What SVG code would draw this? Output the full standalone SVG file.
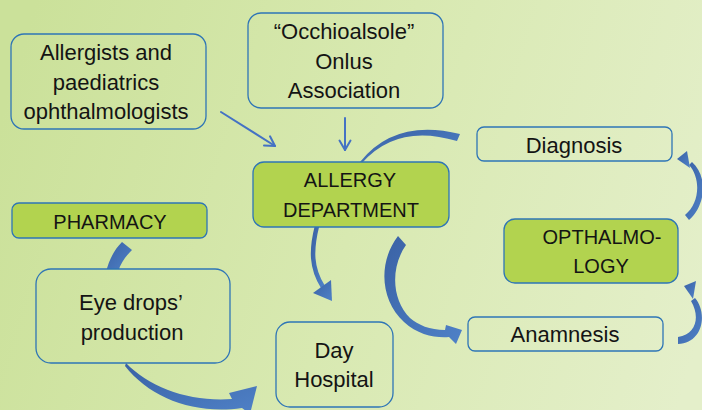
<svg xmlns="http://www.w3.org/2000/svg" width="702" height="410" viewBox="0 0 702 410">
<defs>
<linearGradient id="bg" gradientUnits="userSpaceOnUse" x1="0" y1="120" x2="702" y2="330">
<stop offset="0" stop-color="#cbe19a"/>
<stop offset="0.5" stop-color="#d8e9b1"/>
<stop offset="1" stop-color="#e4efca"/>
</linearGradient>
<linearGradient id="ag" x1="0" y1="0" x2="1" y2="1">
<stop offset="0" stop-color="#3a62a5"/>
<stop offset="1" stop-color="#4f81c7"/>
</linearGradient>
<style>
.box{fill:url(#bg);stroke:#2e75b6;stroke-width:1.3}
.gbox{fill:#b2d34f;stroke:#2e75b6;stroke-width:1.3}
.t{font-family:"Liberation Sans",Arial,sans-serif;font-size:22px;fill:#141414;text-anchor:middle}
.tg{font-family:"Liberation Sans",Arial,sans-serif;font-size:20px;fill:#141414;text-anchor:middle}
.thin{fill:none;stroke:#4472c4;stroke-width:2;stroke-linecap:round;stroke-linejoin:round}
.band{fill:url(#ag)}
.shaft{fill:none;stroke:url(#ag);stroke-width:4.5}
</style>
</defs>
<rect x="0" y="0" width="702" height="410" fill="url(#bg)"/>
<g id="connectors">
<line class="thin" x1="221" y1="112" x2="275" y2="146"/>
<polyline class="thin" points="264,145.6 275,146 270,136.3"/>
<line class="thin" x1="345" y1="118" x2="345" y2="150"/>
<polyline class="thin" points="339.5,140.5 345,150 350.5,140.5"/>
<path class="band" d="M360,162 Q395,118 460,134 L457,141 Q397,123 362,163 Z"/>
<path class="shaft" d="M317,226 C311,250 311,268 323,287"/>
<polygon class="band" points="313,293 331,280 332,301"/>
<path class="band" d="M398,236 C378,262 380,300 404,322 C418,335 435,338 449,337 L456,344 L462,330 L446,325 L445,330 C430,330 418,325 410,318 C392,300 390,268 406,245 Z"/>
<path class="band" d="M126,363 C150,388 190,402 232,399 L229,393 L257,386 L250,414 L242,408 C195,415 150,398 125,366 Z"/>
<path class="band" d="M122,242 L132,250 C126,256 121,262 118,272 L106,272 C109,260 114,250 122,242 Z"/>
<path class="band" d="M685,215 L689,220 C706,205 708,176 692,162 L689,165 C701,178 700,203 685,215 Z"/>
<polygon class="band" points="677,159 687,151 690,168"/>
<path class="band" d="M678,337 L678,344 C703,343 708,313 695,298 L691,301 C700,316 697,334 678,337 Z"/>
<polygon class="band" points="684,286 696,281 693,299"/>
</g>
<g id="allergists">
<rect class="box" x="11" y="34" width="195" height="95" rx="13"/>
<text class="t" x="106" y="60">Allergists and</text>
<text class="t" x="106" y="90">paediatrics</text>
<text class="t" x="106" y="119">ophthalmologists</text>
</g>
<g id="occhioalsole">
<rect class="box" x="248" y="13" width="195" height="95" rx="13"/>
<text class="t" x="344" y="39">“Occhioalsole”</text>
<text class="t" x="344" y="69">Onlus</text>
<text class="t" x="344" y="98">Association</text>
</g>
<g id="allergy">
<rect class="gbox" x="253" y="162" width="196" height="65" rx="11"/>
<text class="tg" x="350" y="187">ALLERGY</text>
<text class="tg" x="351" y="217">DEPARTMENT</text>
</g>
<g id="diagnosis">
<rect class="box" x="477" y="127" width="195" height="34" rx="7"/>
<text class="t" x="574" y="153">Diagnosis</text>
</g>
<g id="pharmacy">
<rect class="gbox" x="12" y="203" width="195" height="35" rx="7"/>
<text class="tg" x="110" y="229">PHARMACY</text>
</g>
<g id="ophthalmology">
<rect class="gbox" x="504" y="219" width="174" height="64" rx="11"/>
<text class="tg" x="602" y="244">OPTHALMO-</text>
<text class="tg" x="601" y="273">LOGY</text>
</g>
<g id="eyedrops">
<rect class="box" x="36" y="269" width="194" height="94" rx="15"/>
<text class="t" x="131" y="310">Eye drops’</text>
<text class="t" x="132" y="340">production</text>
</g>
<g id="anamnesis">
<rect class="box" x="468" y="317" width="195" height="34" rx="7"/>
<text class="t" x="565" y="342">Anamnesis</text>
</g>
<g id="dayhospital">
<rect class="box" x="276" y="322" width="117" height="85" rx="14"/>
<text class="t" x="334" y="358">Day</text>
<text class="t" x="334" y="387">Hospital</text>
</g>
</svg>
